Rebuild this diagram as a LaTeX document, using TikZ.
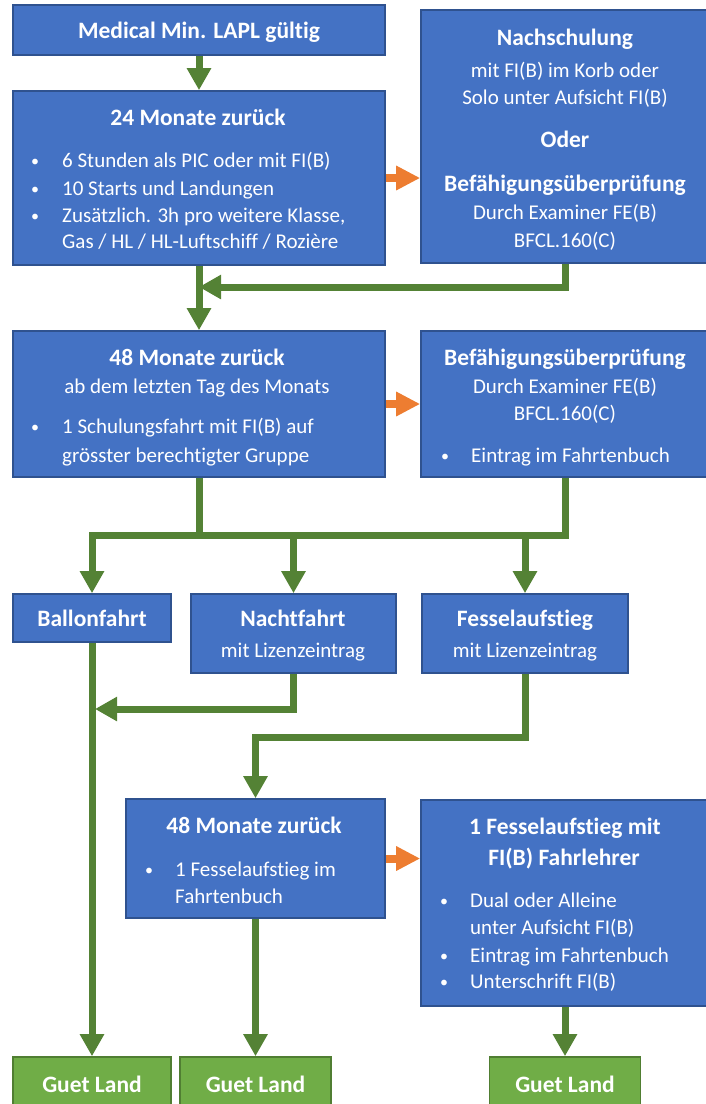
\documentclass[tikz,border=0pt]{standalone}
\usepackage{fontspec}
\setmainfont{Carlito}[Ligatures=NoCommon]
\usetikzlibrary{arrows.meta}
\definecolor{boxblue}{HTML}{4472C4}
\definecolor{boxline}{HTML}{2F528F}
\definecolor{guetgreen}{HTML}{70AD47}
\definecolor{guetline}{HTML}{507E32}
\definecolor{arrowgreen}{HTML}{548235}
\definecolor{arroworange}{HTML}{ED7D31}
\begin{document}
\begin{tikzpicture}[x=1pt,y=-1pt,
		box/.style={draw=boxline, fill=boxblue, line width=1.6pt, inner sep=0pt},
		guet/.style={draw=guetline, fill=guetgreen, line width=1.6pt, inner sep=0pt},
		head/.style={text=white, inner sep=0pt, anchor=base, font=\fontsize{23.5}{28}\selectfont\bfseries},
		body/.style={text=white, inner sep=0pt, anchor=base, font=\fontsize{21}{27}\selectfont},
		dot/.style={body, font=\fontsize{16}{20}\selectfont},
		item/.style={body, anchor=base west},
		gline/.style={draw=arrowgreen, line width=7pt},
		garrow/.style={gline, -{Triangle[width=23pt,length=22pt]}},
		oarrow/.style={draw=arroworange, line width=8pt, -{Triangle[width=23pt,length=24pt]}}]
		\useasboundingbox (0,0) rectangle (706,1104);
		% boxes
		\node [box, minimum width=372, minimum height=50] (medical) at (199,30) {};
		\node [box, minimum width=372, minimum height=174] (m24) at (199,178) {};
		\node [box, minimum width=288, minimum height=253] (nach) at (565,136.5) {};
		\node [box, minimum width=372, minimum height=146] (m48) at (199,404) {};
		\node [box, minimum width=288, minimum height=146] (bef) at (565,404) {};
		\node [box, minimum width=158, minimum height=48] (ballon) at (92,618) {};
		\node [box, minimum width=205, minimum height=79] (nacht) at (293.5,633.5) {};
		\node [box, minimum width=206, minimum height=79] (fessel) at (525,633.5) {};
		\node [box, minimum width=259, minimum height=119] (m48b) at (255.5,858.5) {};
		\node [box, minimum width=288, minimum height=206] (fmit) at (565,903) {};
		\node [guet, minimum width=158, minimum height=58] (guet1) at (92,1086) {};
		\node [guet, minimum width=151, minimum height=58] (guet2) at (255.5,1086) {};
		\node [guet, minimum width=151, minimum height=58] (guet3) at (565,1086) {};
		% texts
		\node [head] (medical-t) at (199,38) {Medical Min. LAPL gültig};
		\node [head] (m24-t) at (198,125) {24 Monate zurück};
		\node [dot] (m24-b1) at (35,166) {•};
		\node [item] (m24-i1) at (62,167) {6 Stunden als PIC oder mit FI(B)};
		\node [dot] (m24-b2) at (35,194) {•};
		\node [item] (m24-i2) at (62,195) {10 Starts und Landungen};
		\node [dot] (m24-b3) at (35,221) {•};
		\node [item] (m24-i3) at (62,222) {Zusätzlich. 3h pro weitere Klasse,};
		\node [item] (m24-i4) at (62,248) {Gas / HL / HL-Luftschiff / Rozière};
		\node [head] (nach-t) at (565,45) {Nachschulung};
		\node [body] (nach-l1) at (565,77) {mit FI(B) im Korb oder};
		\node [body] (nach-l2) at (565,104) {Solo unter Aufsicht FI(B)};
		\node [head] (nach-oder) at (565,147) {Oder};
		\node [head] (nach-t2) at (565,191) {Befähigungsüberprüfung};
		\node [body] (nach-l3) at (565,219) {Durch Examiner FE(B)};
		\node [body] (nach-l4) at (565,247) {BFCL.160(C)};
		\node [head] (m48-t) at (197,365) {48 Monate zurück};
		\node [body] (m48-l1) at (197,393) {ab dem letzten Tag des Monats};
		\node [dot] (m48-b1) at (35,432) {•};
		\node [item] (m48-i1) at (62,433) {1 Schulungsfahrt mit FI(B) auf};
		\node [item] (m48-i2) at (62,462) {grösster berechtigter Gruppe};
		\node [head] (bef-t) at (565,365) {Befähigungsüberprüfung};
		\node [body] (bef-l1) at (565,393) {Durch Examiner FE(B)};
		\node [body] (bef-l2) at (565,420) {BFCL.160(C)};
		\node [dot] (bef-b1) at (445,461) {•};
		\node [item] (bef-i1) at (471,462) {Eintrag im Fahrtenbuch};
		\node [head] (ballon-t) at (92,626) {Ballonfahrt};
		\node [head] (nacht-t) at (293,626) {Nachtfahrt};
		\node [body] (nacht-l1) at (293,657) {mit Lizenzeintrag};
		\node [head] (fessel-t) at (525,626) {Fesselaufstieg};
		\node [body] (fessel-l1) at (525,657) {mit Lizenzeintrag};
		\node [head] (m48b-t) at (254,833) {48 Monate zurück};
		\node [dot] (m48b-b1) at (149,875) {•};
		\node [item] (m48b-i1) at (175,876) {1 Fesselaufstieg im};
		\node [item] (m48b-i2) at (175,903) {Fahrtenbuch};
		\node [head] (fmit-t1) at (565,834) {1 Fesselaufstieg mit};
		\node [head] (fmit-t2) at (564,865) {FI(B) Fahrlehrer};
		\node [dot] (fmit-b1) at (444,906) {•};
		\node [item] (fmit-i1) at (470,907) {Dual oder Alleine};
		\node [item] (fmit-i2) at (470,934) {unter Aufsicht FI(B)};
		\node [dot] (fmit-b2) at (444,961) {•};
		\node [item] (fmit-i3) at (470,962) {Eintrag im Fahrtenbuch};
		\node [dot] (fmit-b3) at (444,987) {•};
		\node [item] (fmit-i4) at (470,988) {Unterschrift FI(B)};
		\node [head] (guet1-t) at (92,1092) {Guet Land};
		\node [head] (guet2-t) at (255.5,1092) {Guet Land};
		\node [head] (guet3-t) at (565,1092) {Guet Land};
		% connectors
		\coordinate (j1) at (199,287);
		\coordinate (j2) at (199,535);
		\coordinate (j3) at (95,709);
		\coordinate (j4) at (255.5,737);
		\draw [garrow] (medical.south) -- (m24.north);
		\draw [garrow] (m24.south) -- (m48.north);
		\draw [garrow] (nach.south) |- (j1);
		\draw [oarrow] (m24.east) -- (m24.east -| nach.west);
		\draw [oarrow] (m48.east) -- (bef.west);
		\draw [gline] (m48.south) -- (j2);
		\draw [garrow] (bef.south) |- (ballon.north |- j2) -- (ballon.north);
		\draw [garrow] (nacht.north |- j2) -- (nacht.north);
		\draw [garrow] (fessel.north |- j2) -- (fessel.north);
		\draw [garrow] (nacht.south) |- (j3);
		\draw [garrow] (ballon.south) -- (guet1.north);
		\draw [garrow] (fessel.south) |- (j4) -- (m48b.north);
		\draw [garrow] (m48b.south) -- (guet2.north);
		\draw [oarrow] (m48b.east) -- (m48b.east -| fmit.west);
		\draw [garrow] (fmit.south) -- (guet3.north);
	\end{tikzpicture}
\end{document}
